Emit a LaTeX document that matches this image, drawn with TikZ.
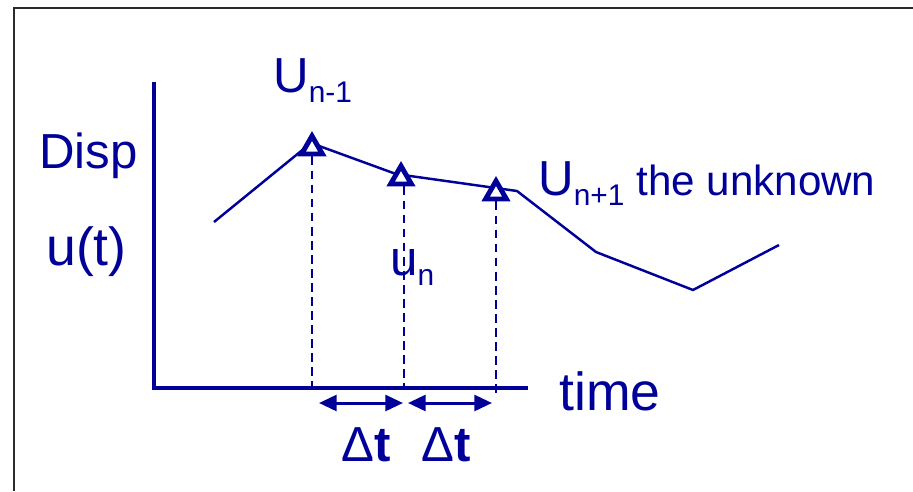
\documentclass[tikz,border=0pt]{standalone}
\usepackage{fontspec}
\setmainfont{Liberation Sans}
\usetikzlibrary{arrows.meta, positioning, shapes.geometric}
\definecolor{ink}{HTML}{000099}
\definecolor{framegray}{HTML}{2B2B2B}
\newcommand{\idx}[1]{\raisebox{-6pt}{\fontsize{17}{20}\selectfont #1}}

\begin{document}
\begin{tikzpicture}[
        x=0.02cm, y=-0.02cm,
        label/.style={
            text=ink,
            inner sep=0pt,
            anchor=base west,
            font=\fontsize{28}{34}\selectfont
        },
        small/.style={label, font=\fontsize{24}{28}\selectfont},
        large/.style={label, font=\fontsize{30.5}{36}\selectfont},
        axis/.style={draw=ink, line width=1.8pt},
        curve/.style={draw=ink, line width=1.4pt, line join=round},
        drop/.style={draw=ink, line width=1.4pt, dash pattern=on 5pt off 3pt},
        marker/.style={
            draw=ink,
            fill=white,
            regular polygon,
            regular polygon sides=3,
            minimum size=0.48cm,
            inner sep=0pt,
            line width=2.8pt
        },
        arrow/.style={{Triangle[length=10pt,width=9pt]}-{Triangle[length=10pt,width=9pt]}, draw=ink, line width=1.7pt}
    ]
        \useasboundingbox (0,0) rectangle (913,491);
        \draw[framegray, line width=1.7pt] (14,491) -- (14,8) -- (913,8);

        % axes
        \coordinate (origin) at (154,388);
        \coordinate (ytop) at (154,82);
        \coordinate (xend) at (528,388);
        \draw[axis] (ytop) -- (origin) -- (xend);

        % displacement history
        \coordinate (p0) at (214,222);
        \coordinate (p1) at (311,143);
        \coordinate (p2) at (396,174);
        \coordinate (p3) at (517,191);
        \coordinate (p4) at (596,252);
        \coordinate (p5) at (693,290);
        \coordinate (p6) at (779,245);
        \draw[curve] (p0) -- (p1) -- (p2) -- (p3) -- (p4) -- (p5) -- (p6);

        \node[marker] (prev) at (312,148) {};
        \node[marker] (curr) at (401,178) {};
        \node[marker] (next) at (496,193) {};

        \draw[drop] (prev.south) -- (prev.south |- origin);
        \draw[drop] ([xshift=0.06cm]curr.south) -- ([xshift=0.06cm]curr.south |- origin);
        \draw[drop] (next.south) -- ([yshift=-0.1cm]next.south |- origin);

        % time steps
        \coordinate (t0) at (319,403);
        \coordinate (t1) at (403,403);
        \coordinate (t2) at (408,403);
        \coordinate (t3) at (492,403);
        \draw[arrow] (t0) -- (t1);
        \draw[arrow] (t2) -- (t3);

        \node[label] (disp) at (39,168) {Disp};
        \node[large] (ut) at (46,265) {u(t)};
        \node[label] (uprev) at (273,92) {U\idx{n-1}};
        \node[label] (unext) at (538,195) {U\idx{n+1}};
        \node[small] (unknown) at (636,195) {the unknown};
        \node[label] (ucurr) at (390,275) {u\idx{n}};
        \node[large] (time) at (559,410) {time};
        \node[label] (dt1) at (341,461) {Δ\textbf{t}};
        \node[label] (dt2) at (421,461) {Δ\textbf{t}};
    \end{tikzpicture}
\end{document}
